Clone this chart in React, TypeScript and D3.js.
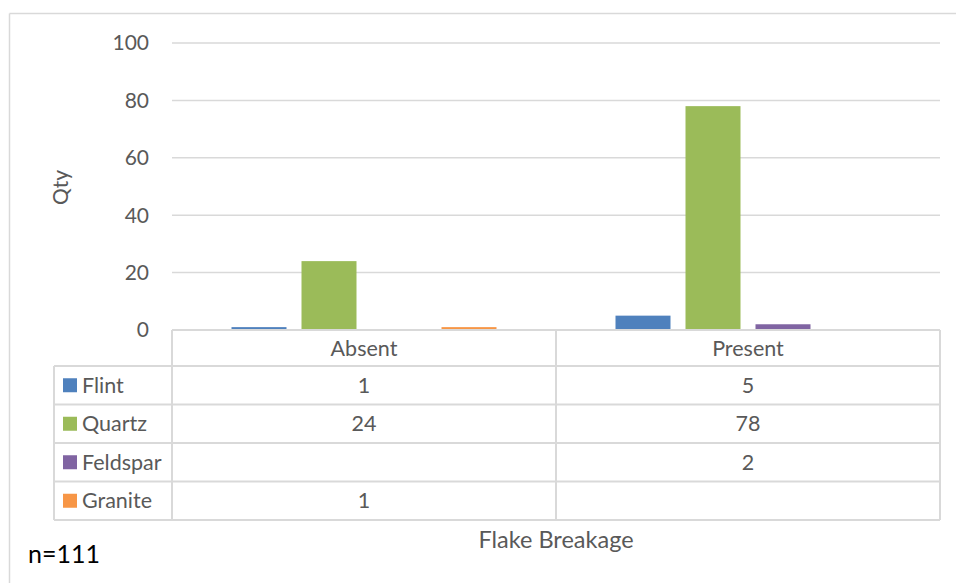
import React from "react";
import * as d3 from "d3";

const categories = ["Absent", "Present"];
const seriesNames = ["Flint", "Quartz", "Feldspar", "Granite"];
const seriesColors = ["#4F81BD", "#9BBB59", "#8064A2", "#F79646"];
const flint: (number | null)[] = [1, 5];
const quartz: (number | null)[] = [24, 78];
const feldspar: (number | null)[] = [null, 2];
const granite: (number | null)[] = [1, null];
const yTicks = [0, 20, 40, 60, 80, 100];

const seriesValues = [flint, quartz, feldspar, granite];

const W = 956;
const H = 583;
const plotLeft = 172;
const plotRight = 940;
const plotTop = 43;
const plotBottom = 330;
const headerH = 36;
const rowH = 38.5;
const tableLeft = 54;
const FONT = "Lato, 'Open Sans', sans-serif";
const GRID = "#D9D9D9";
const TXT = "#595959";

export default function App() {
  const x = d3.scaleBand<string>().domain(categories).range([plotLeft, plotRight]).padding(0);
  const xi = d3
    .scaleBand<string>()
    .domain(seriesNames)
    .range([0, x.bandwidth()])
    .paddingInner(15 / 70)
    .paddingOuter(0.85);
  const y = d3.scaleLinear().domain([0, 100]).range([plotBottom, plotTop]);

  const tableTop = plotBottom;
  const rowsTop = tableTop + headerH;
  const tableBottom = rowsTop + rowH * seriesNames.length;

  return (
    <svg width={W} height={H} style={{ position: "absolute", left: 0, top: 0 }} fontFamily={FONT}>
      <rect x={0} y={0} width={W} height={H} fill="#fff" />
      {/* outer border */}
      <line x1={9.5} x2={W} y1={13.5} y2={13.5} stroke={GRID} strokeWidth={1.5} />
      <line x1={9.5} x2={9.5} y1={13.5} y2={H} stroke={GRID} strokeWidth={1.5} />

      {/* gridlines */}
      {yTicks.map((t) => (
        <g key={t}>
          {t > 0 && (
            <line x1={plotLeft} x2={plotRight} y1={y(t)} y2={y(t)} stroke={GRID} strokeWidth={1.5} />
          )}
          <text x={149} y={y(t)} dy="0.35em" textAnchor="end" fontSize={21} fill={TXT}>
            {t}
          </text>
        </g>
      ))}

      {/* bars */}
      {seriesNames.map((s, si) =>
        categories.map((c, ci) => {
          const v = seriesValues[si][ci];
          if (v == null) return null;
          const bx = (x(c) as number) + (xi(s) as number);
          return (
            <rect
              key={s + c}
              x={bx}
              y={y(v)}
              width={xi.bandwidth()}
              height={y(0) - y(v)}
              fill={seriesColors[si]}
            />
          );
        })
      )}

      {/* y axis title */}
      <text
        transform={`translate(68,${(plotTop + plotBottom) / 2 + 1}) rotate(-90)`}
        textAnchor="middle"
        fontSize={21}
        fill={TXT}
      >
        Qty
      </text>

      {/* data table */}
      <g stroke={GRID} strokeWidth={2} fill="none">
        <line x1={plotLeft} x2={plotLeft} y1={tableTop} y2={tableBottom} />
        <line x1={plotRight} x2={plotRight} y1={tableTop} y2={tableBottom} />
        <line x1={plotLeft} x2={plotRight} y1={tableTop} y2={tableTop} />
        {categories.slice(1).map((c) => (
          <line key={c} x1={x(c)} x2={x(c)} y1={tableTop} y2={tableBottom} />
        ))}
        <line x1={tableLeft} x2={tableLeft} y1={rowsTop} y2={tableBottom} />
        {seriesNames.map((s, i) => (
          <line key={s} x1={tableLeft} x2={plotRight} y1={rowsTop + i * rowH} y2={rowsTop + i * rowH} />
        ))}
        <line x1={tableLeft} x2={plotRight} y1={tableBottom} y2={tableBottom} />
      </g>
      {categories.map((c) => (
        <text
          key={c}
          x={(x(c) as number) + x.bandwidth() / 2}
          y={tableTop + headerH / 2}
          dy="0.35em"
          textAnchor="middle"
          fontSize={21.5}
          fill={TXT}
        >
          {c}
        </text>
      ))}
      {seriesNames.map((s, si) => {
        const cy = rowsTop + si * rowH + rowH / 2;
        return (
          <g key={s}>
            <rect x={63} y={cy - 7} width={14} height={14} fill={seriesColors[si]} />
            <text x={82} y={cy} dy="0.35em" fontSize={21.5} fill={TXT}>
              {s}
            </text>
            {categories.map((c, ci) => {
              const v = seriesValues[si][ci];
              return v == null ? null : (
                <text
                  key={c}
                  x={(x(c) as number) + x.bandwidth() / 2}
                  y={cy}
                  dy="0.35em"
                  textAnchor="middle"
                  fontSize={21.5}
                  fill={TXT}
                >
                  {v}
                </text>
              );
            })}
          </g>
        );
      })}

      {/* x axis title */}
      <text x={(plotLeft + plotRight) / 2} y={548} textAnchor="middle" fontSize={23.5} fill={TXT}>
        Flake Breakage
      </text>

      <text x={28} y={563} fontSize={25} fill="#000">
        n=111
      </text>
    </svg>
  );
}
